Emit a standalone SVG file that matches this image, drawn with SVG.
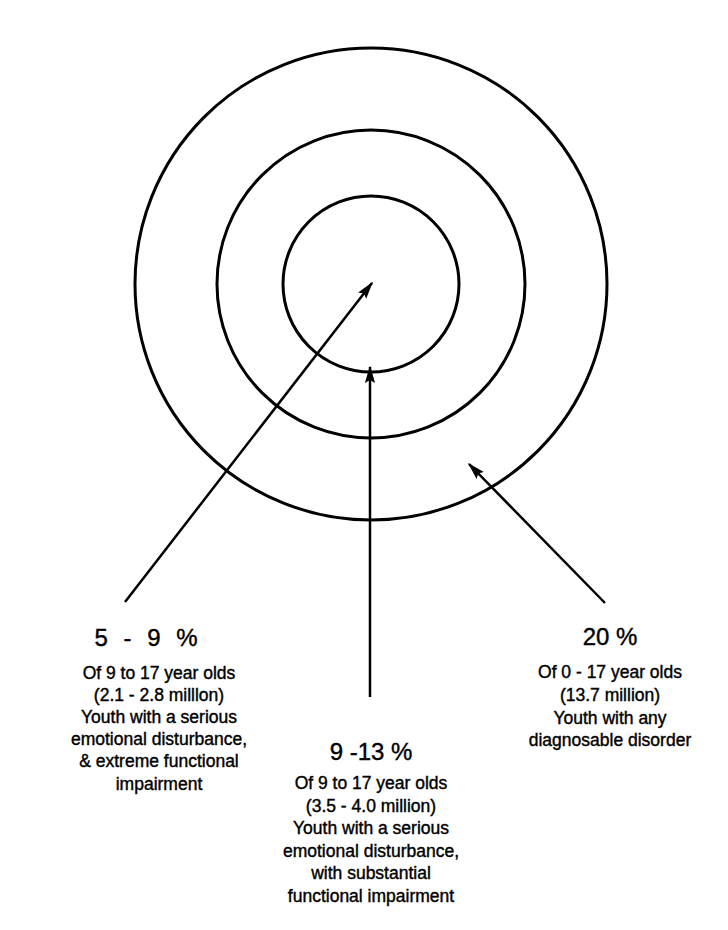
<svg xmlns="http://www.w3.org/2000/svg" width="728" height="930" viewBox="0 0 728 930">
<style>
.ring{fill:none;stroke:#000;stroke-width:3}
.conn{stroke:#000;stroke-width:2.5;fill:none}
.t{font-family:"Liberation Sans",Arial,sans-serif;text-anchor:middle;fill:#000;stroke:#000;stroke-width:0.4}
.h{font-size:24px}
.b{font-size:17.5px}
</style>
<defs>
<marker id="ah" viewBox="0 0 12 10" refX="11" refY="5" markerWidth="7" markerHeight="6" orient="auto" markerUnits="strokeWidth">
<path d="M0,1.5 L12,5 L0,8.5 L2,5 Z" fill="#000"/>
</marker>
</defs>
<rect width="728" height="930" fill="#fff"/>
<g id="outer"><circle class="ring" cx="371" cy="284" r="236"/></g>
<g id="middle"><circle class="ring" cx="371" cy="284" r="154"/></g>
<g id="inner"><circle class="ring" cx="371" cy="284" r="88"/></g>
<g id="connectors">
<line class="conn" x1="125" y1="602" x2="372" y2="283" marker-end="url(#ah)"/>
<line class="conn" x1="370" y1="697" x2="370" y2="367" marker-end="url(#ah)"/>
<line class="conn" x1="605" y1="603" x2="469" y2="464" marker-end="url(#ah)"/>
</g>
<g id="label-left" class="t">
<text class="h" x="146" y="646" word-spacing="9">5 - 9 %</text>
<text class="b" x="159" y="679">Of 9 to 17 year olds</text>
<text class="b" x="159" y="701">(2.1 - 2.8 milllon)</text>
<text class="b" x="159" y="723">Youth with a serious</text>
<text class="b" x="159" y="745">emotional disturbance,</text>
<text class="b" x="159" y="767">&amp; extreme functional</text>
<text class="b" x="159" y="790">impairment</text>
</g>
<g id="label-middle" class="t">
<text class="h" x="371" y="760">9 -13 %</text>
<text class="b" x="371" y="789">Of 9 to 17 year olds</text>
<text class="b" x="371" y="812">(3.5 - 4.0 million)</text>
<text class="b" x="371" y="834">Youth with a serious</text>
<text class="b" x="371" y="857">emotional disturbance,</text>
<text class="b" x="371" y="879">with substantial</text>
<text class="b" x="371" y="902">functional impairment</text>
</g>
<g id="label-right" class="t">
<text class="h" x="610" y="645">20 %</text>
<text class="b" x="610" y="678">Of 0 - 17 year olds</text>
<text class="b" x="610" y="701">(13.7 million)</text>
<text class="b" x="610" y="724">Youth with any</text>
<text class="b" x="610" y="746">diagnosable disorder</text>
</g>
</svg>
